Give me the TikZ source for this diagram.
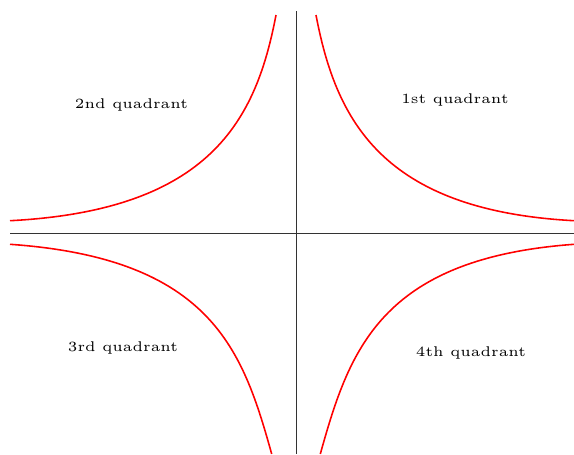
\documentclass[tikz,border=0pt]{standalone}
\begin{document}
\begin{tikzpicture}[x=0.38pt,y=-0.38pt,
  axis/.style={line width=0.35pt,black!80},
  hyp/.style={line width=0.6pt,red},
  lbl/.style={font=\fontsize{5.35}{6}\selectfont,inner sep=0pt}]
\useasboundingbox (0,0) rectangle (574,454);
% axes
\coordinate (xl) at (10,233);
\coordinate (xr) at (574,233);
\coordinate (yt) at (296,11);
\coordinate (yb) at (296,454);
\draw[axis] (xl) -- (xr);
\draw[axis] (yt) -- (yb);
% curve end points
\coordinate (a1) at (316,15);
\coordinate (b1) at (574,220.7);
\coordinate (a2) at (276,15);
\coordinate (b2) at (10,220.7);
\coordinate (a3) at (271.7,454);
\coordinate (b3) at (10,244.3);
\coordinate (a4) at (320.3,454);
\coordinate (b4) at (574,244.3);
\draw[hyp] (a1) .. controls (335.8,119.1) and (380.9,210.3) .. (b1);
\draw[hyp] (a2) .. controls (256.2,119.1) and (211.1,210.3) .. (b2);
\draw[hyp] (a3) .. controls (243,351.4) and (212.5,258.5) .. (b3);
\draw[hyp] (a4) .. controls (349,351.4) and (379.5,258.5) .. (b4);
% labels
\node[lbl] (q1) at (455,99.5) {1st quadrant};
\node[lbl] (q2) at (131.5,104.5) {2nd quadrant};
\node[lbl] (q3) at (123,348) {3rd quadrant};
\node[lbl] (q4) at (471,353) {4th quadrant};
\end{tikzpicture}
\end{document}
